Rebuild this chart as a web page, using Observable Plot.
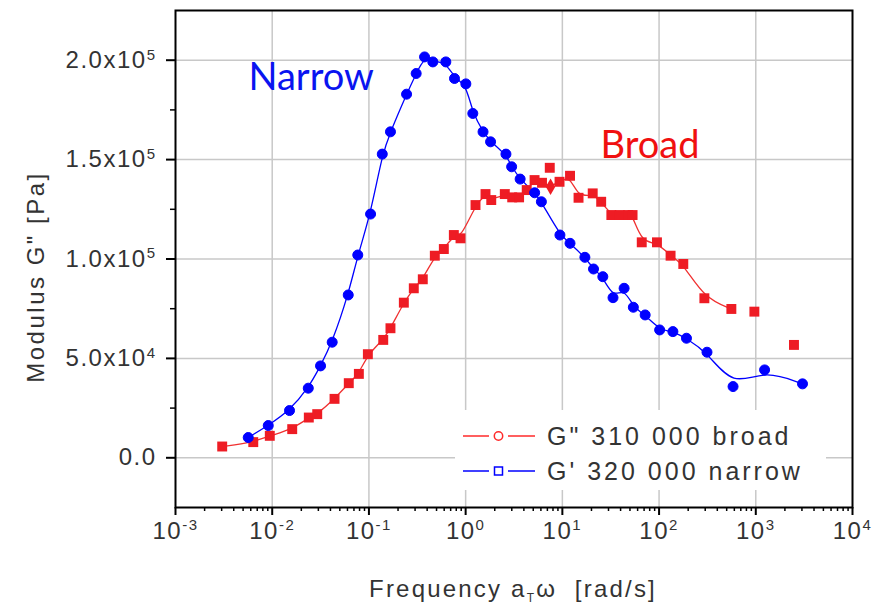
<!DOCTYPE html>
<html><head><meta charset="utf-8">
<script src="https://cdn.jsdelivr.net/npm/d3@7"></script>
<script src="https://cdn.jsdelivr.net/npm/@observablehq/plot@0.6"></script>
<style>
body{margin:0;background:#fff;}
#chart{position:relative;width:879px;height:606px;}
#chart svg text{letter-spacing:1.5px;}
</style></head>
<body><div id="chart"></div>
<script>
// G'' broad (red squares)
const broadFreq = [0.00304,0.00637,0.00944,0.0161,0.0239,0.0292,0.0441,0.0619,0.0787,0.0975,0.1406,0.167,0.2296,0.291,0.3605,0.48,0.595,0.755,0.885,1.265,1.605,1.84,2.54,3.03,3.57,4.28,5.16,6.16,7.41,9.35,12.0,14.7,20.6,25.2,32.1,39.2,48.0,53.2,66.2,95.1,131.5,178,294,559,967,2483];
const broadG = [5680,7890,11055,14420,20250,21960,29650,37540,42210,52110,59300,65170,78040,85270,89800,101660,105020,112060,110400,127130,132660,129650,132660,131000,131000,134670,139700,138340,145880,138840,141860,130800,133010,128790,122110,122110,122110,122110,108390,108390,101660,97490,80250,74870,73520,56780];
// single red diamond marker
const broadDiamondFreq = [7.55];
const broadDiamondG = [136330];
// points left off the red fitted curve
const broadLineSkip = [7.41, 967, 2483];

// G' narrow (blue dots)
const narrowFreq = [0.00565,0.0091,0.0151,0.0236,0.0316,0.0417,0.0611,0.0767,0.104,0.1374,0.167,0.245,0.308,0.376,0.458,0.624,0.767,1.005,1.186,1.513,1.81,2.61,2.99,3.66,5.17,6.07,9.44,12.0,17.1,21.0,26.2,33.4,43.5,54.2,71.8,101.4,139,192,313,582,1233,3041];
const narrowG = [10200,16230,23770,35020,46230,58140,81910,102010,122610,152760,163970,182910,193310,201650,199140,199140,190800,188090,173210,163970,158940,152760,146380,140200,133310,128790,112060,107890,100850,94970,91100,80550,85270,75730,71860,64320,63470,60150,53110,35830,44220,37190];

// annotations
const annotText = ["Narrow","Broad"];
const annotFreq = [0.00569, 24.8];
const annotG = [184900, 150750];
const annotColor = ["#0a14f0","#f01010"];

// ticks
const xMajor = [1e-3,1e-2,1e-1,1,1e1,1e2,1e3,1e4];
const xMinor = xMajor.slice(0,-1).flatMap(d => [2,3,4,5,6,7,8,9].map(k => k*d));
const yMajor = [0,50000,100000,150000,200000];
const yMajorLabels = ["0.0","5.0x10^4","1.0x10^5","1.5x10^5","2.0x10^5"];
const yMinor = [25000,75000,125000,175000];
const legendLabels = ["G\" 310 000 broad","G' 320 000 narrow"];

const broad = broadFreq.map((f,i)=>({f, g: broadG[i]}));
const diamond = broadDiamondFreq.map((f,i)=>({f, g: broadDiamondG[i]}));
const broadLine = broad.filter(d => !broadLineSkip.includes(d.f)).concat(diamond).sort((a,b)=>a.f-b.f);
const narrow = narrowFreq.map((f,i)=>({f, g: narrowG[i]}));
const annot = annotText.map((t,i)=>({t, f: annotFreq[i], g: annotG[i], c: annotColor[i]}));

const RED = "#ee1c24", BLUE = "#0000ff";
const gridStyle = {stroke:"#c8c8c8", strokeOpacity:1, strokeWidth:1.5};

const chart = Plot.plot({
  width: 879, height: 606,
  marginLeft: 175, marginRight: 27, marginTop: 10, marginBottom: 99,
  x: {type: "log", domain: [1e-3, 1e4]},
  y: {domain: [-25000, 225000]},
  style: {fontFamily: "'Liberation Sans', Arial, sans-serif", fontSize: "24px", color: "#333", background: "#fff", overflow: "visible"},
  marks: [
    Plot.gridX({ticks: xMajor.slice(1,-1), ...gridStyle}),
    Plot.gridY({ticks: yMajor, ...gridStyle}),
    Plot.line(broadLine, {x:"f", y:"g", stroke:"#f03030", strokeWidth:1.3, curve:"basis"}),
    Plot.line(narrow, {x:"f", y:"g", stroke:BLUE, strokeWidth:1.3, curve:"basis"}),
    Plot.dot(broad, {x:"f", y:"g", symbol:"square", r:5.6, fill:RED, stroke:null}),
    Plot.dot(diamond, {x:"f", y:"g", symbol:"diamond", r:5, fill:RED, stroke:null}),
    Plot.dot(narrow, {x:"f", y:"g", symbol:"circle", r:5, fill:BLUE, stroke:BLUE, strokeWidth:1}),
    Plot.text(annot, {x:"f", y:"g", text:"t", fill:"c", textAnchor:"start", lineAnchor:"bottom", fontSize:38, fontFamily:"Lato, 'Open Sans', sans-serif"}),
    Plot.axisX({ticks: xMinor, tickSize: 4, tickFormat: () => "", label: null, stroke:"#000", strokeWidth:1.5}),
    Plot.axisX({ticks: xMajor, tickSize: 8, tickPadding: 6, tickFormat: d => "10^" + Math.round(Math.log10(d)), label: null, stroke:"#000", fill:"#333", strokeWidth:2}),
    Plot.axisY({ticks: yMinor, tickSize: 5, tickFormat: () => "", label: null, stroke:"#000", strokeWidth:1.5}),
    Plot.axisY({ticks: yMajor, tickSize: 9, tickPadding: 10, tickFormat: d => yMajorLabels[yMajor.indexOf(d)], label: null, stroke:"#000", fill:"#333", strokeWidth:2}),
    Plot.frame({stroke:"#000", strokeWidth:2})
  ]
});

document.getElementById("chart").appendChild(chart);
const svg = d3.select(chart);
const NS = "http://www.w3.org/2000/svg";

// superscripts
chart.querySelectorAll("text").forEach(t => {
  const s = t.textContent;
  if (!s.includes("^")) return;
  const [base, sup] = s.split("^");
  t.textContent = "";
  const a = document.createElementNS(NS, "tspan"); a.textContent = base; t.appendChild(a);
  const b = document.createElementNS(NS, "tspan"); b.textContent = sup;
  b.setAttribute("dy", "-0.55em"); b.setAttribute("font-size", "15px"); t.appendChild(b);
});
chart.querySelectorAll("text").forEach(t => { if (t.textContent === "Narrow" || t.textContent === "Broad") t.style.letterSpacing = "0px"; });

// axis titles
const xl = svg.append("text").attr("x", 513).attr("y", 597).attr("text-anchor", "middle")
  .attr("fill", "#333").style("font-size", "24px").style("letter-spacing", "2.2px");
xl.append("tspan").text("Frequency a");
xl.append("tspan").text("T").attr("font-size", "12px").attr("dy", 5);
xl.append("tspan").text("ω  [rad/s]").attr("dy", -5);

svg.append("text").attr("transform", "translate(44,277) rotate(-90)").attr("text-anchor", "middle")
  .attr("fill", "#333").style("font-size", "24px").style("letter-spacing", "2.5px")
  .text("Modulus G\" [Pa]");

// legend
const lg = svg.append("g");
lg.append("rect").attr("x", 455).attr("y", 410).attr("width", 371).attr("height", 80).attr("fill", "#fff");
const rows = [{y:436, c:"#ff2a2a", sym:"circle"}, {y:471, c:BLUE, sym:"square"}];
rows.forEach((r, i) => {
  lg.append("line").attr("x1", 463).attr("x2", 489).attr("y1", r.y).attr("y2", r.y).attr("stroke", r.c).attr("stroke-width", 1.5);
  lg.append("line").attr("x1", 508).attr("x2", 535).attr("y1", r.y).attr("y2", r.y).attr("stroke", r.c).attr("stroke-width", 1.5);
  if (r.sym === "circle") lg.append("circle").attr("cx", 498.5).attr("cy", r.y).attr("r", 4.2).attr("fill", "#fff").attr("stroke", r.c).attr("stroke-width", 1.5);
  else lg.append("rect").attr("x", 494.5).attr("y", r.y - 4).attr("width", 8).attr("height", 8).attr("fill", "#fff").attr("stroke", r.c).attr("stroke-width", 1.5);
  lg.append("text").attr("x", 547).attr("y", r.y + 9).attr("text-anchor", "start").attr("fill", "#333").style("font-size", "25px").style("letter-spacing", "3px").text(legendLabels[i]);
});
</script>
</body></html>
